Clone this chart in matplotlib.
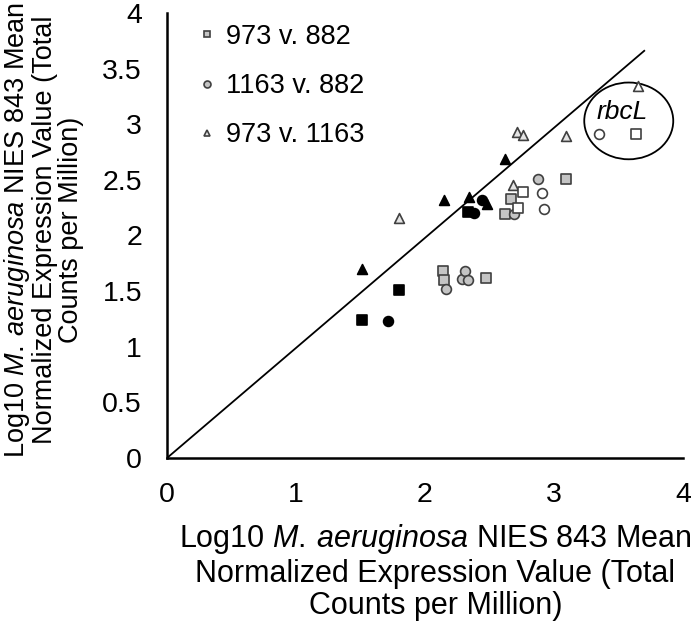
import matplotlib.pyplot as plt
from matplotlib.patches import Ellipse
from matplotlib.lines import Line2D

plt.rcParams["font.family"] = ["Liberation Sans", "DejaVu Sans"]
plt.rcParams["mathtext.fontset"] = "custom"
plt.rcParams["mathtext.rm"] = "Liberation Sans"
plt.rcParams["mathtext.it"] = "Liberation Sans:italic"

# black filled markers
sq_black_x = [1.51, 1.80, 2.33]
sq_black_y = [1.24, 1.51, 2.21]
ci_black_x = [1.71, 2.38, 2.44]
ci_black_y = [1.23, 2.20, 2.32]
tr_black_x = [1.51, 2.15, 2.34, 2.48, 2.62]
tr_black_y = [1.70, 2.32, 2.35, 2.28, 2.69]

# grey filled markers
sq_grey_x = [2.14, 2.15, 2.47, 2.62, 2.67, 3.09]
sq_grey_y = [1.68, 1.60, 1.62, 2.19, 2.33, 2.51]
ci_grey_x = [2.16, 2.29, 2.31, 2.33, 2.69, 2.88]
ci_grey_y = [1.52, 1.61, 1.68, 1.60, 2.19, 2.51]
tr_grey_x = [1.80, 2.68, 2.71, 2.76, 3.09]
tr_grey_y = [2.16, 2.45, 2.93, 2.90, 2.89]

# open markers
sq_white_x = [2.72, 2.76, 3.64]
sq_white_y = [2.25, 2.39, 2.91]
ci_white_x = [2.91, 2.92, 3.35]
ci_white_y = [2.38, 2.24, 2.91]
tr_white_x = [3.65]
tr_white_y = [3.34]

legend_labels = ["973 v. 882", "1163 v. 882", "973 v. 1163"]
ticks_x = [0, 1, 2, 3, 4]
ticks_y = [0, 0.5, 1, 1.5, 2, 2.5, 3, 3.5, 4]

edge = "#404040"
fig = plt.figure(figsize=(7, 6.22), dpi=100)
ax = fig.add_axes([0.2386, 0.2637, 0.737, 0.7154])

ax.plot([0, 3.7], [0, 3.66], color="black", lw=1.3, zorder=1)

groups = [
    (sq_black_x, sq_black_y, "s", "black", "black"),
    (ci_black_x, ci_black_y, "o", "black", "black"),
    (tr_black_x, tr_black_y, "^", "black", "black"),
    (sq_grey_x, sq_grey_y, "s", "#c4c4c4", edge),
    (ci_grey_x, ci_grey_y, "o", "#c4c4c4", edge),
    (tr_grey_x, tr_grey_y, "^", "#e4e4e4", edge),
    (sq_white_x, sq_white_y, "s", "white", edge),
    (ci_white_x, ci_white_y, "o", "white", edge),
    (tr_white_x, tr_white_y, "^", "white", edge),
]
for gx, gy, m, fc, ec in groups:
    ax.scatter(gx, gy, marker=m, s=50, facecolor=fc, edgecolor=ec, linewidth=1.2, zorder=3)

ax.add_patch(Ellipse((3.58, 3.03), 0.69, 0.69, fill=False, edgecolor="black", lw=1.3))
ax.text(3.53, 3.11, "rbcL", style="italic", fontsize=19, ha="center", va="center")

handles = [
    Line2D([], [], ls="none", marker="s", ms=5, mfc="#c4c4c4", mec=edge, mew=1.2),
    Line2D([], [], ls="none", marker="o", ms=5, mfc="#c4c4c4", mec=edge, mew=1.2),
    Line2D([], [], ls="none", marker="^", ms=5, mfc="#e4e4e4", mec=edge, mew=1.2),
]
ax.legend(handles, legend_labels, loc="upper left", bbox_to_anchor=(0.04, 1.0),
          frameon=False, fontsize=19.5, handlelength=0.6, handletextpad=0.4,
          labelspacing=0.86, borderaxespad=0)

ax.set_xlim(0, 4)
ax.set_ylim(0, 4)
ax.set_xticks(ticks_x)
ax.set_yticks(ticks_y)
ax.set_yticklabels([f"{t:g}" for t in ticks_y])
ax.tick_params(length=0, labelsize=20.5, pad=18)
ax.tick_params(axis="x", pad=17)
for s in ["top", "right"]:
    ax.spines[s].set_visible(False)
for s in ["left", "bottom"]:
    ax.spines[s].set_linewidth(1.8)

fig.text(0.622, 0.081,
         "Log10 $\\mathit{M.\\:aeruginosa}$ NIES 843 Mean\n"
         "Normalized Expression Value (Total\nCounts per Million)",
         ha="center", va="center", fontsize=22, linespacing=1.1)
fig.text(0.062, 0.63,
         "Log10 $\\mathit{M.\\:aeruginosa}$ NIES 843 Mean\n"
         "Normalized Expression Value (Total\nCounts per Million)",
         ha="center", va="center", fontsize=19.5, rotation=90, linespacing=1.0)

fig.savefig("out.png")
